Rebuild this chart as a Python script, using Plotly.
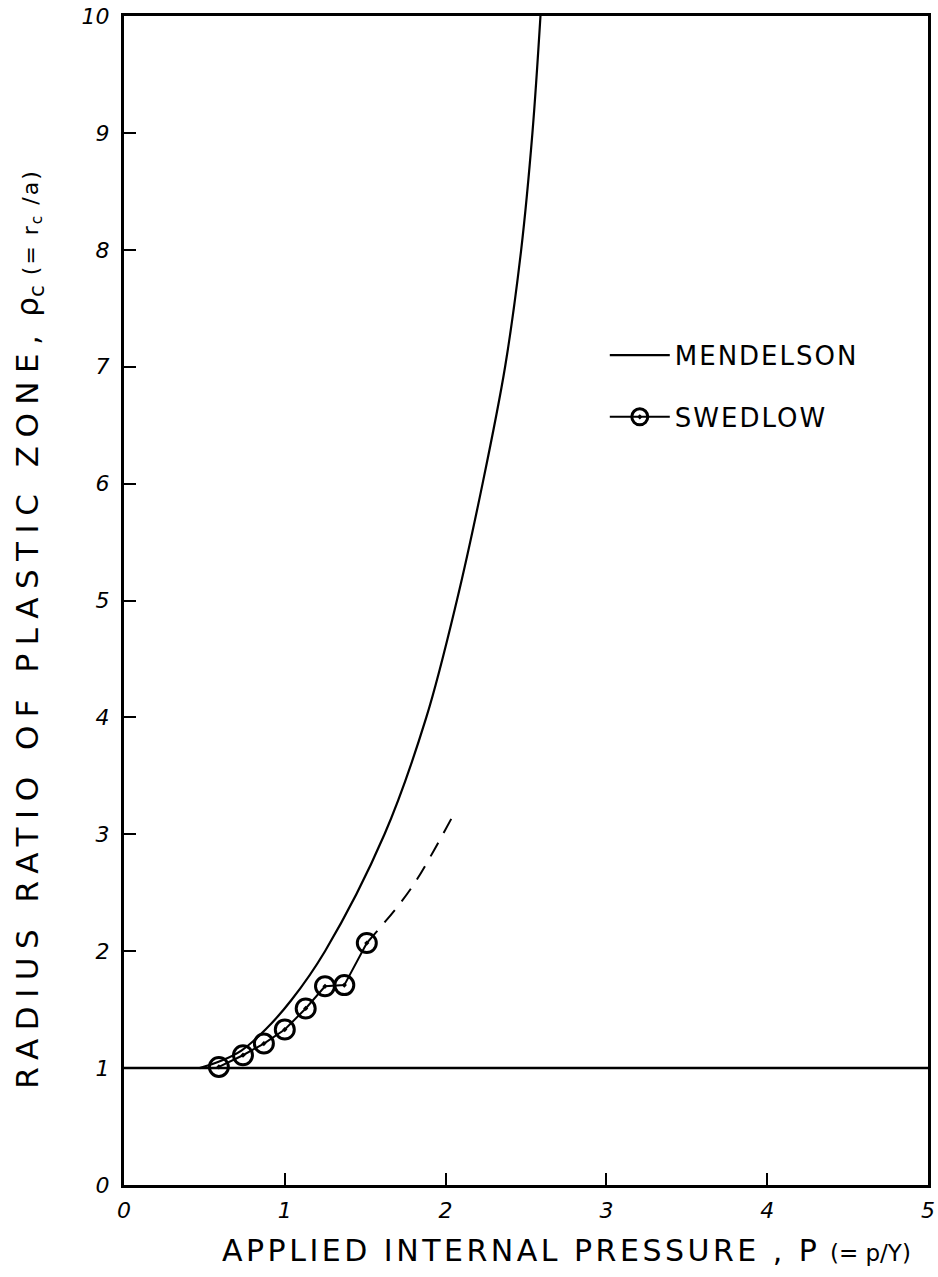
import plotly.graph_objects as go

# Mendelson curve
mend_x = [0.47, 0.60, 0.73, 0.88, 1.04, 1.25, 1.62, 1.88, 2.07, 2.23, 2.37, 2.47, 2.54, 2.59]
mend_y = [1.00, 1.06, 1.15, 1.33, 1.58, 2.00, 3.00, 4.00, 5.00, 6.00, 7.00, 8.00, 9.00, 10.0]

# Swedlow data points
swed_x = [0.59, 0.74, 0.87, 1.00, 1.13, 1.25, 1.37, 1.51]
swed_y = [1.01, 1.11, 1.21, 1.33, 1.51, 1.70, 1.71, 2.07]

# Swedlow dashed extrapolation
ext_x = [1.51, 1.70, 1.82, 2.05]
ext_y = [2.07, 2.38, 2.61, 3.17]

# Reference line rho_c = 1
ref_x = [0, 5]
ref_y = [1, 1]

x_ticks = [0, 1, 2, 3, 4, 5]
y_ticks = [0, 1, 2, 3, 4, 5, 6, 7, 8, 9, 10]

FONT = "DejaVu Sans"

fig = go.Figure()
fig.add_trace(go.Scatter(x=ref_x, y=ref_y, mode="lines",
                         line=dict(color="black", width=2.5), showlegend=False, hoverinfo="skip"))
fig.add_trace(go.Scatter(x=ext_x, y=ext_y, mode="lines",
                         line=dict(color="black", width=2, dash="16px,11px", shape="spline"),
                         showlegend=False))
fig.add_trace(go.Scatter(x=mend_x, y=mend_y, mode="lines",
                         name="<span style='letter-spacing:2px'>MENDELSON</span>",
                         line=dict(color="black", width=2.2, shape="spline", smoothing=1.0),
                         legendgroup="a"))
fig.add_trace(go.Scatter(x=swed_x, y=swed_y, mode="lines+markers",
                         name="<span style='letter-spacing:2px'>SWEDLOW</span>",
                         line=dict(color="black", width=2),
                         marker=dict(symbol="circle-open-dot", size=19, color="black",
                                     line=dict(color="black", width=3)),
                         legendgroup="b"))

axis_common = dict(showline=True, linecolor="black", linewidth=3, mirror=True,
                   ticks="inside", ticklen=12, tickwidth=2, tickcolor="black",
                   showgrid=False, zeroline=False, ticklabeloverflow="allow",
                   tickfont=dict(family=FONT, size=22, color="black", style="italic"))

fig.update_xaxes(range=[0, 5], tickvals=x_ticks, ticktext=[str(v) for v in x_ticks],
                 ticklabelstandoff=4, **axis_common)
fig.update_yaxes(range=[0, 10], tickvals=y_ticks, ticktext=[str(v) for v in y_ticks],
                 ticklabelstandoff=7, **axis_common)

fig.add_annotation(xref="paper", yref="paper", x=0.55, y=-0.056, showarrow=False,
                   xanchor="center", yanchor="middle",
                   text="<span style='letter-spacing:3.5px'>APPLIED INTERNAL PRESSURE , P</span> "
                        "<span style='font-size:23px'>(= p/Y)</span>",
                   font=dict(family=FONT, size=30, color="black"))
fig.add_annotation(xref="paper", yref="paper", x=-0.118, y=0.476, showarrow=False,
                   textangle=-90, xanchor="center", yanchor="middle",
                   text="<span style='letter-spacing:8.5px'>RADIUS RATIO OF PLASTIC ZONE,</span> ρ<sub>c</sub> "
                        "<span style='font-size:22px;letter-spacing:2px'>(= r<sub>c</sub> /a)</span>",
                   font=dict(family=FONT, size=31, color="black"))

fig.update_layout(
    width=938, height=1277,
    margin=dict(l=124, r=3, t=16, b=92),
    paper_bgcolor="white", plot_bgcolor="white",
    legend=dict(x=0.598, y=0.730, xanchor="left", yanchor="top",
                font=dict(family=FONT, size=26, color="black"),
                bgcolor="rgba(0,0,0,0)", tracegroupgap=25, traceorder="grouped",
                itemwidth=60),
)

fig.write_html("out.html")
